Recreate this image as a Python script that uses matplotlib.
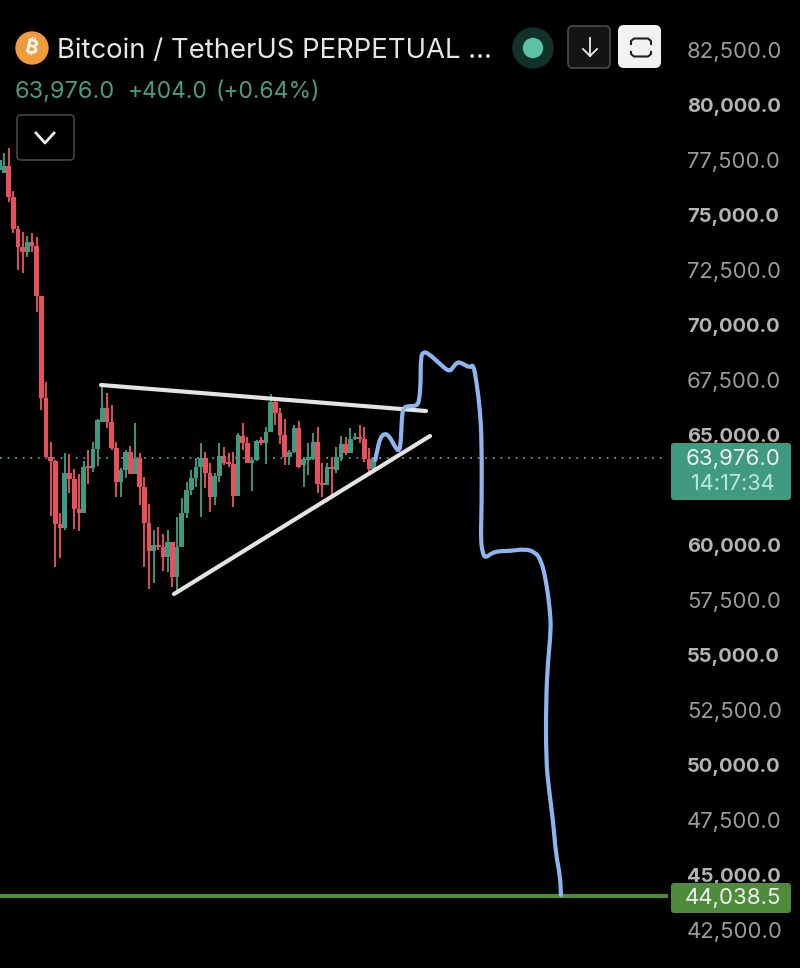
import numpy as np
import matplotlib
matplotlib.use("Agg")
import matplotlib.pyplot as plt
from matplotlib.patches import FancyBboxPatch, Circle, PathPatch
from matplotlib.path import Path

plt.rcParams["font.family"] = ["Inter", "DejaVu Sans"]

# ----------------- Data -----------------
opens = [77045, 76909, 77227, 75818, 74364, 73545, 73318, 73773, 73591, 71318,
         66682, 64000, 63818, 60955, 60773, 63273, 63000, 61636, 61455, 63545,
         63500, 64364, 65591, 66227, 65591, 64409, 62864, 63409, 64227, 63227,
         63955, 62636, 61000, 59727, 60000, 59909, 59455, 60136, 58545, 59909,
         61455, 62500, 63045, 63545, 63955, 63273, 62182, 63136, 64045, 63727,
         63682, 62227, 64955, 64636, 63727, 63864, 64773, 64636, 65136, 66500,
         66000, 65000, 64000, 64227, 65318, 63636, 63864, 63909, 64682, 62818,
         62727, 63545, 63409, 64000, 64591, 64182, 64818, 64864, 64818, 63909,
         63455]
highs = [77727, 77818, 78046, 76091, 74500, 74227, 74045, 74182, 74000, 71318,
         67409, 64682, 63864, 61455, 64182, 64136, 63455, 63227, 63818, 64318,
         64682, 65727, 67273, 66909, 66364, 64682, 63500, 64318, 64500, 65545,
         64182, 63091, 61864, 60682, 60818, 60500, 60682, 60136, 61273, 62136,
         62864, 63409, 63955, 64636, 64227, 63727, 63273, 64636, 64455, 64182,
         64227, 65091, 65545, 64909, 63955, 64773, 64909, 65364, 66864, 66636,
         66227, 65727, 64318, 65455, 65636, 64000, 64636, 65091, 65364, 63727,
         63727, 64000, 64455, 64955, 64909, 65318, 65091, 65455, 65364, 64409,
         64000]
lows = [76636, 76909, 75591, 74182, 72500, 72364, 73091, 73318, 70591, 66136,
        64000, 61318, 59000, 59409, 60682, 62364, 60727, 60636, 61455, 62773,
        63318, 63591, 65591, 65318, 64318, 62182, 62182, 63045, 63227, 63227,
        61818, 59000, 58000, 58273, 59773, 58818, 58773, 58091, 57818, 59909,
        61227, 62273, 62636, 61273, 62591, 61500, 61818, 62864, 63636, 63545,
        61727, 62227, 64318, 63727, 62455, 63818, 64545, 63682, 65136, 65455,
        64591, 63636, 63636, 64182, 63500, 62636, 63182, 63864, 62364, 62182,
        62727, 62182, 63273, 63818, 64091, 64182, 64773, 64636, 63773, 63136,
        63455]
closes = [77500, 77227, 75818, 74364, 73545, 73318, 73773, 73591, 71318, 66682,
          64000, 63818, 60955, 60773, 63273, 63000, 61636, 61455, 63545, 63500,
          64364, 65682, 66227, 65591, 64409, 62864, 63409, 64227, 63227, 63955,
          62636, 61000, 59727, 60000, 59909, 59455, 60136, 58545, 59909, 61455,
          62500, 63045, 63545, 63955, 63273, 62182, 63136, 64045, 63727, 63682,
          62227, 65000, 64636, 63727, 63864, 64727, 64636, 65136, 66500, 66000,
          65000, 64000, 64227, 65318, 63545, 63909, 64000, 64682, 62773, 62727,
          63545, 63455, 64000, 64591, 64182, 64818, 64864, 64818, 63909, 63455,
          63955]

price_ticks = [82500, 80000, 77500, 75000, 72500, 70000, 67500, 65000, 60000,
               57500, 55000, 52500, 50000, 47500, 45000, 42500]

last_price = 63976.0
target_price = 44038.5

upper_x = [101, 426]
upper_price = [67273, 66091]
lower_x = [174, 430]
lower_price = [57773, 64955]

sketch_x = [375.3, 377.3, 380, 385, 390, 395, 399.3, 401, 401.7, 403, 408, 417,
            419.3, 420.7, 420.7, 423.3, 428, 440, 449.3, 453.3, 457.3, 461.7,
            470, 473.3, 476.7, 480, 481.7, 481.7, 480.7, 482.7, 485.3, 491.7,
            499.3, 510, 525, 535, 541, 546, 550, 551, 548, 546, 546, 549, 553,
            556, 560, 561]
sketch_price = [63864, 64318, 64864, 65091, 64909, 64455, 64227, 64773, 65682,
                66227, 66318, 66318, 66591, 67364, 68545, 68773, 68727, 68227,
                67864, 68091, 68318, 68273, 68045, 68227, 67364, 66136, 64773,
                61727, 60227, 59636, 59409, 59636, 59727, 59727, 59818, 59682,
                59318, 58409, 57045, 56136, 54773, 52955, 50227, 48864, 47500,
                45909, 45000, 44091]

GREEN = "#3f9a82"
RED = "#e8505b"

fig = plt.figure(figsize=(8, 9.68), facecolor="black")

# ----------------- Price chart, x in screen px, y in price -----------------
ax = fig.add_axes([0, 0, 1, 1], facecolor="black")
ax.set_xlim(0, 800)
ax.set_ylim(40773, 84773)
ax.axis("off")

ax.plot([0, 665], [last_price, last_price], color="#5a9f8e", lw=1.3,
        linestyle=(0, (1, 3.2)), zorder=1)

bar_x = -0.7 + 4.68 * np.arange(len(opens))
for x, o, h, l, c in zip(bar_x, opens, highs, lows, closes):
    col = GREEN if c >= o else RED
    ax.plot([x, x], [l, h], color=col, lw=1.35, solid_capstyle="butt", zorder=2)
    ax.bar(x, max(abs(c - o), 70), bottom=min(o, c), width=4.7, color=col, zorder=3)

ax.plot(upper_x, upper_price, color="#e4e4e4", lw=3.0, solid_capstyle="round", zorder=4)
ax.plot(lower_x, lower_price, color="#e4e4e4", lw=3.0, solid_capstyle="round", zorder=4)

# hand drawn line: quadratic curves through the read points so corners stay soft
verts = [(sketch_x[0], sketch_price[0])]
codes = [Path.MOVETO]
for i in range(1, len(sketch_x) - 1):
    verts.append((sketch_x[i], sketch_price[i]))
    verts.append(((sketch_x[i] + sketch_x[i + 1]) / 2, (sketch_price[i] + sketch_price[i + 1]) / 2))
    codes += [Path.CURVE3, Path.CURVE3]
verts.append((sketch_x[-1], sketch_price[-1]))
codes.append(Path.LINETO)
ax.add_patch(PathPatch(Path(verts, codes), facecolor="none", edgecolor="#8db6ee",
                       lw=3.0, capstyle="round", joinstyle="round", zorder=5))

ax.plot([0, 668], [target_price, target_price], color="#4e8c3c", lw=3.0,
        solid_capstyle="butt", zorder=4)

for p in price_ticks:
    bold = p % 5000 == 0
    ax.text(687, p, f"{p:,.1f}", ha="left", va="center_baseline",
            fontsize=14.5 if bold else 15.9,
            color="#b4b4b4" if bold else "#9c9c9c",
            fontweight="bold" if bold else "normal", zorder=2)

# ----------------- Header and price tags, in screen px -----------------
ui = fig.add_axes([0, 0, 1, 1], facecolor="none")
ui.set_xlim(0, 800)
ui.set_ylim(968, 0)
ui.axis("off")


def box(x0, y0, x1, y1, face, edge="none", r=4, lw=1.2):
    ui.add_patch(FancyBboxPatch((x0 + r, y0 + r), x1 - x0 - 2 * r, y1 - y0 - 2 * r,
                                boxstyle=f"round,pad={r},rounding_size={r}",
                                facecolor=face, edgecolor=edge, linewidth=lw))


ui.add_patch(Circle((32, 48), 16, color="#ef9a3c"))
ui.text(32, 48, "₿", ha="center", va="center", fontsize=14, color="white",
        fontweight="bold", rotation=-12)
ui.text(57, 51, "Bitcoin / TetherUS PERPETUAL ...", ha="left", va="center",
        fontsize=19.8, color="#e6e6e6")

ui.text(15, 92, "63,976.0", ha="left", va="center", fontsize=17, color="#4a9a84")
ui.text(128, 92, "+404.0", ha="left", va="center", fontsize=16.4, color="#4a9a84")
ui.text(216, 92, "(+0.64%)", ha="left", va="center", fontsize=16.5, color="#4a9a84")

# collapse button
box(17, 115, 74, 160, "black", "#444444", r=4)
ui.plot([36, 45, 54], [133, 143, 133], color="#eeeeee", lw=2.0)

# status dot
ui.add_patch(Circle((533, 48), 20, color="#12312b"))
ui.add_patch(Circle((533, 48), 9.5, color="#5fc0a8"))

# down arrow button
box(568, 26, 610, 68, "#141414", "#4a4a4a", r=5)
ui.plot([590, 590], [38, 56], color="#eeeeee", lw=1.3)
ui.plot([583, 590, 597], [49, 56, 49], color="#eeeeee", lw=1.3)

# white button
box(618, 25, 661, 68, "#f2f2f2", r=6)
ui.plot([631, 631, 634, 648, 651, 651], [44, 41, 38.5, 38.5, 41, 44], color="#222222", lw=1.5)
ui.plot([631, 631, 634, 648, 651, 651], [52, 54, 56.5, 56.5, 54, 52], color="#222222", lw=1.5)

# last price tag
box(671, 443, 791, 500, GREEN, r=3)
ui.text(733, 459, "63,976.0", ha="center", va="center", fontsize=16, color="#f2f2f2")
ui.text(733, 484, "14:17:34", ha="center", va="center", fontsize=15.6, color="#bfe6da")

# target price tag
box(671, 883, 791, 913, "#4e8c3c", r=3)
ui.text(733, 898, "44,038.5", ha="center", va="center", fontsize=16, color="#f2f2f2")

fig.savefig("out.png", dpi=100, facecolor="black")
plt.close(fig)
